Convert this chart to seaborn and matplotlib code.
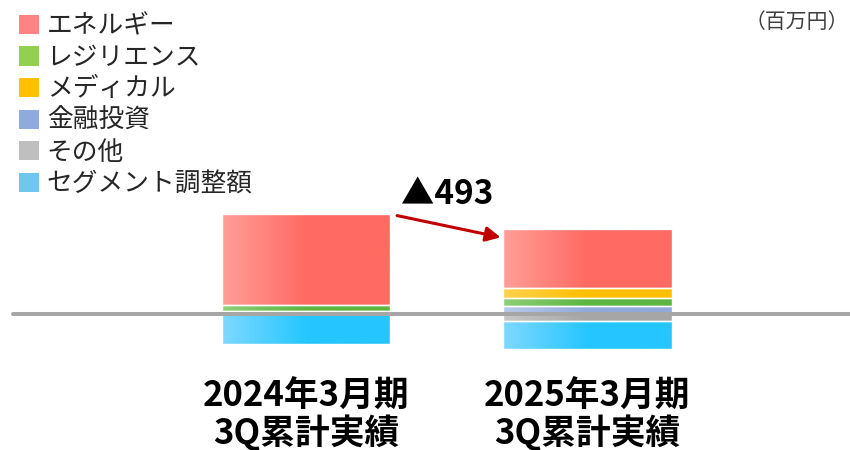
import numpy as np
import matplotlib
matplotlib.use("Agg")
import matplotlib.pyplot as plt
import seaborn as sns
from matplotlib.patches import Patch
from matplotlib.colors import to_rgb

# Segment results (million yen), cumulative through Q3
periods = ["2024年3月期\n3Q累計実績", "2025年3月期\n3Q累計実績"]
segments = ["エネルギー", "レジリエンス", "メディカル", "金融投資", "その他", "セグメント調整額"]
energy = [2170, 1385]
resilience = [134, 183]
medical = [0, 258]
finance = [0, 186]
other = [83, -165]
adjustment = [-706, -659]
change_label = "▲493"
unit_label = "（百万円）"

series = [energy, resilience, medical, finance, other, adjustment]

# stacking order above / below the zero line
pos_order = [0, 2, 1, 3, 4]   # top to bottom: energy, medical, resilience, finance, other
neg_order = [4, 5]            # other, then adjustment going down

legend_colors = ["#FF8383", "#92D050", "#FFC000", "#8FAADC", "#BFBFBF", "#6FC6EE"]
bar_light = ["#FF9E98", "#8FCF78", "#FFD24E", "#B8CBEA", "#C8C8C8", "#7FD8FF"]
bar_dark = ["#FF6A62", "#5DB63F", "#FFBF00", "#8FAADC", "#A6A6A6", "#25C6FF"]

sns.set_theme(style="white")
plt.rcParams["font.family"] = ["Noto Sans CJK JP", "DejaVu Sans"]

fig = plt.figure(figsize=(8.5, 4.5), dpi=100)
ax = fig.add_axes([0, 80 / 450, 1, 370 / 450])

bar_w = 0.597
seg_patches = {}


def draw_segment(idx, heights, bottoms):
    before = len(ax.patches)
    sns.barplot(x=periods, y=list(heights), bottom=list(bottoms), color=bar_dark[idx],
                width=bar_w, edgecolor="white", linewidth=1.0,
                errorbar=None, ax=ax, zorder=2)
    seg_patches.setdefault(idx, []).extend(ax.patches[before:])


# positive parts stacked up from zero (bottom-most first)
base = np.zeros(len(periods))
for idx in reversed(pos_order):
    vals = np.array(series[idx], dtype=float)
    vals_pos = np.where(vals > 0, vals, 0)
    draw_segment(idx, vals_pos, base)
    base = base + vals_pos
pos_top = base.copy()

# negative parts stacked down from zero
base = np.zeros(len(periods))
for idx in neg_order:
    vals = np.array(series[idx], dtype=float)
    vals_neg = np.where(vals < 0, vals, 0)
    draw_segment(idx, vals_neg, base)
    base = base + vals_neg


# horizontal light-to-saturated fill inside each bar segment
def gradient_image(light, dark, n=256):
    t = np.clip(np.linspace(0, 1, n) / 0.5, 0, 1)
    c0 = np.array(to_rgb(light))
    c1 = np.array(to_rgb(dark))
    return (c0[None, :] * (1 - t[:, None]) + c1[None, :] * t[:, None])[None, :, :]


for idx, patches in seg_patches.items():
    img = gradient_image(bar_light[idx], bar_dark[idx])
    for p in patches:
        h = p.get_height()
        if abs(h) < 1e-9:
            p.set_visible(False)
            continue
        x0, y0 = p.get_x(), p.get_y()
        w = p.get_width()
        im = ax.imshow(img, extent=(x0, x0 + w, min(y0, y0 + h), max(y0, y0 + h)),
                       aspect="auto", zorder=1.9, interpolation="bilinear")
        im.set_clip_path(p)
        p.set_facecolor("none")

# axis scaling: 23.77 units per pixel, zero line 314 px from the top
upp = 23.77
ax.set_ylim(-56 * upp, 314 * upp)
ax.set_xlim(-306 / 281.5, 1 + (850 - 587.5) / 281.5)

ax.axhline(0, xmin=13 / 850, xmax=1, color="#A6A6A6", lw=2.9, zorder=3)

for s in ax.spines.values():
    s.set_visible(False)
ax.set_yticks([])
ax.set_ylabel("")
ax.tick_params(axis="x", length=0, pad=6.5)
for lab in ax.get_xticklabels():
    lab.set_fontsize(25)
    lab.set_fontweight("bold")
    lab.set_color("black")
    lab.set_linespacing(1.0)

# change arrow from one period's top to the next
ax.annotate("", xy=(1 - bar_w / 2 - 0.01, pos_top[1] - 8 * upp),
            xytext=(bar_w / 2 + 0.025, pos_top[0] - 2 * upp),
            arrowprops=dict(arrowstyle="-|>", color="#C00000", lw=2.2,
                            mutation_scale=22, shrinkA=0, shrinkB=0),
            zorder=4)
ax.text(0.5, max(pos_top) + 19 * upp, change_label, ha="center", va="center",
        fontsize=24, fontweight="bold", color="black")

# legend
handles = [Patch(facecolor=c, edgecolor="none") for c in legend_colors]
fig.legend(handles, segments, loc="upper left", bbox_to_anchor=(0.004, 1.005),
           frameon=False, fontsize=18.5, handlelength=0.78, handleheight=0.78,
           handletextpad=0.3, labelspacing=0.22, borderaxespad=0.2,
           labelcolor="#262626")

fig.text(0.999, 1 - 22 / 450, unit_label, ha="right", va="center",
         fontsize=15, color="#404040")

fig.savefig("out.png", dpi=100)
